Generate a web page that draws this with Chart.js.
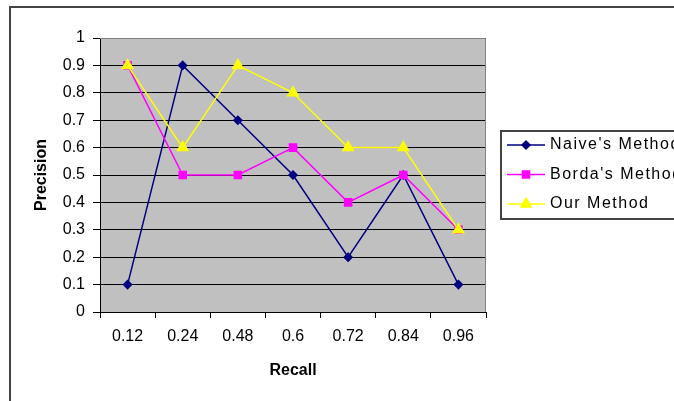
<!DOCTYPE html>
<html>
<head>
<meta charset="utf-8">
<script src="https://cdn.jsdelivr.net/npm/chart.js@4.4.1/dist/chart.umd.min.js"></script>
<style>
  html, body { margin: 0; padding: 0; background: #fff; }
  #wrap { width: 674px; height: 401px; }
</style>
</head>
<body>
<div id="wrap"><canvas id="pr-canvas" width="674" height="401"></canvas></div>
<script>
const recallLabels = ['0.12', '0.24', '0.48', '0.6', '0.72', '0.84', '0.96'];
const naiveValues = [0.1, 0.9, 0.7, 0.5, 0.2, 0.5, 0.1];
const bordaValues = [0.9, 0.5, 0.5, 0.6, 0.4, 0.5, 0.3];
const ourValues = [0.9, 0.6, 0.9, 0.8, 0.6, 0.6, 0.3];
const seriesNames = ["Naive's Method", "Borda's Method", "Our Method"];

const FONT = "'Liberation Sans', Arial, sans-serif";
Chart.defaults.font.family = FONT;
Chart.defaults.color = '#000';

// grey plot background + outer frame
const backdrop = {
  id: 'backdrop',
  beforeDraw(chart) {
    const { ctx, chartArea: a } = chart;
    ctx.save();
    ctx.fillStyle = '#fff';
    ctx.fillRect(0, 0, chart.width, chart.height);
    ctx.strokeStyle = '#444';
    ctx.lineWidth = 2;
    ctx.strokeRect(10, 7, 720, 430);
    ctx.fillStyle = '#c0c0c0';
    ctx.fillRect(a.left, a.top, a.right - a.left, a.bottom - a.top);
    ctx.restore();
  },
  beforeDatasetsDraw(chart) {
    const { ctx, chartArea: a } = chart;
    ctx.save();
    ctx.strokeStyle = '#808080';
    ctx.lineWidth = 1;
    ctx.beginPath();
    ctx.moveTo(a.left, a.top + 0.5);
    ctx.lineTo(a.right - 0.5, a.top + 0.5);
    ctx.lineTo(a.right - 0.5, a.bottom);
    ctx.stroke();
    ctx.restore();
  }
};

// boxed legend on the right, line + marker like the original
const boxLegend = {
  id: 'boxLegend',
  afterDraw(chart) {
    const { ctx } = chart;
    const left = 501, top = 131, rowY = 145, rowStep = 29.5;
    ctx.save();
    ctx.fillStyle = '#fff';
    ctx.fillRect(left, top, 200, 88);
    ctx.strokeStyle = '#444';
    ctx.lineWidth = 2;
    ctx.strokeRect(left, top, 200, 88);
    chart.data.datasets.forEach((ds, i) => {
      const y = rowY + i * rowStep;
      ctx.strokeStyle = ds.borderColor;
      ctx.lineWidth = 1.5;
      ctx.beginPath();
      ctx.moveTo(507, y);
      ctx.lineTo(545, y);
      ctx.stroke();
      ctx.fillStyle = ds.pointBackgroundColor;
      ctx.strokeStyle = ds.pointBorderColor;
      Chart.helpers.drawPoint(ctx, {
        pointStyle: ds.pointStyle, radius: ds.pointRadius, borderWidth: 1, rotation: 0
      }, 526, y);
      ctx.fillStyle = '#000';
      ctx.font = '16px ' + FONT;
      ctx.letterSpacing = '1.5px';
      ctx.textBaseline = 'middle';
      ctx.textAlign = 'left';
      ctx.fillText(ds.label, 550, y);
    });
    ctx.restore();
  }
};

const data = {
  labels: recallLabels,
  datasets: [
    {
      label: seriesNames[0],
      data: naiveValues,
      borderColor: '#000080',
      borderWidth: 1.5,
      pointStyle: 'rectRot',
      pointRadius: 4,
      pointBackgroundColor: '#000080',
      pointBorderColor: '#000080',
      order: 3
    },
    {
      label: seriesNames[1],
      data: bordaValues,
      borderColor: '#ff00ff',
      borderWidth: 1.5,
      pointStyle: 'rect',
      pointRadius: 5,
      pointBackgroundColor: '#ff00ff',
      pointBorderColor: '#ff00ff',
      order: 2
    },
    {
      label: seriesNames[2],
      data: ourValues,
      borderColor: '#ffff00',
      borderWidth: 1.5,
      pointStyle: 'triangle',
      pointRadius: 6,
      pointBackgroundColor: '#ffff00',
      pointBorderColor: '#ffff00',
      order: 1
    }
  ]
};

const config = {
  type: 'line',
  data,
  options: {
    responsive: false,
    animation: false,
    devicePixelRatio: 1,
    layout: { padding: { left: 10, top: 38, right: 188, bottom: 0 } },
    elements: { line: { tension: 0 } },
    plugins: {
      legend: { display: false },
      tooltip: { enabled: false }
    },
    scales: {
      x: {
        offset: true,
        grid: { offset: true, drawOnChartArea: false, color: '#000', tickLength: 6 },
        border: { color: '#000', width: 1 },
        ticks: { font: { size: 16 }, padding: 9, maxRotation: 0, autoSkip: false, color: '#000' },
        title: { display: true, text: 'Recall', font: { size: 16, weight: 'bold' }, padding: { top: 0, bottom: 21 } },
        afterFit(s) { s.height = 89; }
      },
      y: {
        min: 0,
        max: 1,
        ticks: {
          stepSize: 0.1, padding: 8, font: { size: 16 }, color: '#000',
          callback: v => String(Math.round(v * 10) / 10)
        },
        grid: { color: '#000', lineWidth: 1, tickLength: 7 },
        border: { color: '#000', width: 1 },
        title: { display: true, text: 'Precision', font: { size: 16, weight: 'bold' }, padding: { top: 22, bottom: 0 } },
        afterFit(s) { s.width = 90; }
      }
    }
  },
  plugins: [backdrop, boxLegend]
};

const prChart = new Chart(document.getElementById('pr-canvas'), config);
</script>
</body>
</html>
